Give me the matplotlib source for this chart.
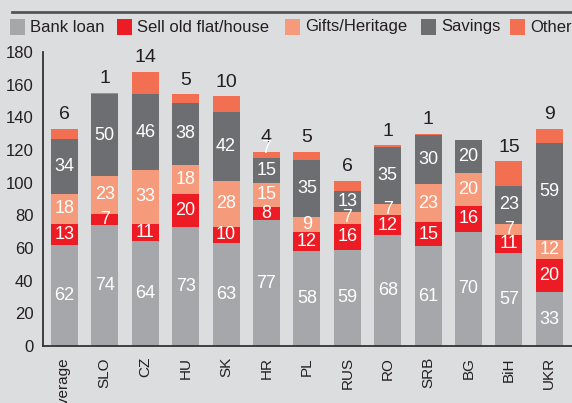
import matplotlib
matplotlib.use("Agg")
import matplotlib.pyplot as plt
from matplotlib.patches import Rectangle
import numpy as np

plt.rcParams['font.family'] = ['Liberation Sans', 'DejaVu Sans']

categories = ["Average", "SLO", "CZ", "HU", "SK", "HR", "PL", "RUS", "RO", "SRB", "BG", "BiH", "UKR"]
bank_loan = [62, 74, 64, 73, 63, 77, 58, 59, 68, 61, 70, 57, 33]
sell_old = [13, 7, 11, 20, 10, 8, 12, 16, 12, 15, 16, 11, 20]
gifts = [18, 23, 33, 18, 28, 15, 9, 7, 7, 23, 20, 7, 12]
savings = [34, 50, 46, 38, 42, 15, 35, 13, 35, 30, 20, 23, 59]
other = [6, 1, 14, 5, 10, 4, 5, 6, 1, 1, 0, 15, 9]
series_names = ["Bank loan", "Sell old flat/house", "Gifts/Heritage", "Savings", "Other"]
yticks = [0, 20, 40, 60, 80, 100, 120, 140, 160, 180]

colors = ["#a6a7aa", "#ed1c24", "#f59a7a", "#6d6e71", "#f26f52"]
bg = "#dcdddf"
dark = "#231f20"

W, H = 572, 403
fig = plt.figure(figsize=(W/100, H/100), dpi=100, facecolor=bg)
ax = fig.add_axes([43/W, 1-346/H, 1-43/W, (346-52)/H])
ax.set_facecolor(bg)

x = np.arange(len(categories))
w = 0.67
series = [bank_loan, sell_old, gifts, savings, other]
bottom = np.zeros(len(categories))
for i, (vals, col, name) in enumerate(zip(series, colors, series_names)):
    vals = np.array(vals, dtype=float)
    ax.bar(x, vals, w, bottom=bottom, color=col, label=name, linewidth=0)
    for xi, v, bt in zip(x, vals, bottom):
        if v <= 0:
            continue
        if i < 4:
            ax.text(xi, bt + v/2, f"{int(v)}", ha='center', va='center',
                    color='white', fontsize=13)
        else:
            ax.annotate(f"{int(v)}", (xi, bt + v), xytext=(0, 4),
                        textcoords='offset points', ha='center', va='bottom',
                        color=dark, fontsize=14)
    bottom += vals

# stray white label visible at top of HR bar in the original
hr = categories.index("HR")
ax.text(hr, bottom[hr] + 2, "7", ha='center', va='center', color='white', fontsize=13)

ax.set_xlim(-0.53, 12.56)
ax.set_ylim(0, 180)
ax.set_yticks(yticks)
ax.set_yticklabels([str(t) for t in yticks], fontsize=12, color=dark)
ax.set_xticks(x)
ax.set_xticklabels(categories, rotation=90, fontsize=11, color=dark)
ax.tick_params(axis='both', length=0)
ax.tick_params(axis='y', pad=7)
ax.tick_params(axis='x', pad=8)
for s in ['top', 'right']:
    ax.spines[s].set_visible(False)
for s in ['left', 'bottom']:
    ax.spines[s].set_color("#333333")
    ax.spines[s].set_linewidth(1.3)

# top rule line
fig.add_artist(plt.Line2D([12/W, 1.0], [1-11.5/H, 1-11.5/H], color="#555555",
                          linewidth=2, transform=fig.transFigure))

# legend
sq_x = [10, 117, 285, 421, 510]
ly = 27
sq = 15
for sx, col, name in zip(sq_x, colors, series_names):
    fig.add_artist(Rectangle((sx/W, 1-(ly+sq/2)/H), sq/W, sq/H, facecolor=col,
                             edgecolor='none', transform=fig.transFigure))
    fig.text((sx+sq+5)/W, 1-ly/H, name, ha='left', va='center', fontsize=12,
             color=dark)

fig.savefig("out.png", dpi=100, facecolor=bg)
